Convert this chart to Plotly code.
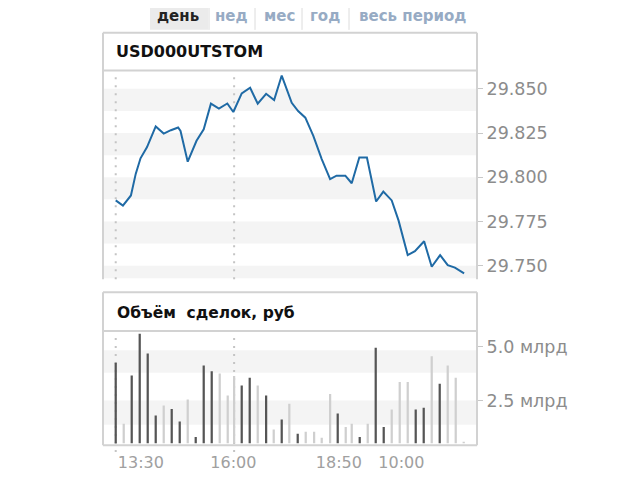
import plotly.graph_objects as go

# страница добавляет отступ 8px, поэтому фигура чуть меньше окна
OFF = 8
W, H = 624, 464

# --- данные ---
tabs = ["день", "нед", "мес", "год", "весь период"]
title_price = "USD000UTSTOM"
title_volume = "Объём  сделок, руб"

# цена: позиция (номер интервала) и значение
price_slot = [0, 0.9, 1.9, 2.5, 3.1, 3.9, 5.0, 6.0, 6.9, 7.8, 8.1, 9.0, 10.1, 11.0,
              11.9, 12.9, 13.95, 14.7, 15.75, 16.8, 17.75, 18.8, 19.8, 20.75, 22.0,
              22.8, 23.7, 24.7, 25.75, 26.8, 27.6, 28.7, 29.5, 30.45, 31.4, 32.55,
              33.45, 34.5, 35.35, 36.5, 37.4, 38.55, 39.5, 40.55, 41.5, 42.4, 43.55]
price = [29.7869, 29.7840, 29.7897, 29.8019, 29.8107, 29.8169, 29.8287, 29.8247,
         29.8266, 29.8281, 29.8262, 29.8088, 29.8206, 29.8271, 29.8416, 29.8388,
         29.8417, 29.8369, 29.8474, 29.8506, 29.8416, 29.8472, 29.8436, 29.8575,
         29.8421, 29.8374, 29.8337, 29.8234, 29.8103, 29.7990, 29.8009, 29.8009,
         29.7966, 29.8112, 29.8112, 29.7863, 29.7919, 29.7869, 29.7756, 29.7560,
         29.7582, 29.7638, 29.7494, 29.7560, 29.7503, 29.7489, 29.7457]

# объём, млрд руб
vol_slot = [0, 1, 2, 3, 4, 5, 6, 7, 8, 9, 10, 11, 12, 13, 14, 14.8, 15.75, 16.75,
            17.75, 18.8, 19.75, 20.75, 21.7, 22.75, 23.75, 24.8, 25.75, 26.8, 27.75,
            28.75, 29.5, 30.5, 31.5, 32.5, 33.5, 34.5, 35.5, 36.5, 37.5, 38.5, 39.5,
            40.5, 41.5, 42.5, 43.5]
volume = [4.26, 1.42, 3.67, 5.62, 4.69, 1.80, 2.27, 2.10, 1.52, 2.55, 0.80, 4.13,
          3.87, 3.76, 2.73, 3.64, 3.20, 3.56, 3.20, 2.73, 1.15, 1.62, 2.35, 0.95,
          1.04, 1.04, 0.76, 2.81, 1.90, 1.26, 1.42, 0.80, 1.42, 4.96, 1.26, 2.08,
          3.37, 3.37, 2.08, 2.16, 4.57, 3.28, 4.13, 3.56, 0.58]
vol_dark = [1, 0, 1, 1, 1, 1, 0, 1, 1, 0, 1, 1, 1, 0, 0, 0, 1, 1, 0, 1, 0, 1, 0, 1,
            0, 0, 0, 0, 1, 0, 0, 1, 0, 1, 1, 0, 0, 0, 1, 1, 0, 1, 0, 0, 0]

price_ticks = [29.750, 29.775, 29.800, 29.825, 29.850]
vol_ticks = [2.5, 5.0]
vol_ticktext = ["2.5 млрд", "5.0 млрд"]
time_ticks = [3.15, 14.7, 27.9, 35.7]
time_labels = ["13:30", "16:00", "18:50", "10:00"]
session_marks = [0, 14.8]


def px(x):
    return (x - OFF) / W


def py(y):
    return 1 - (y - OFF) / H


FONT = "DejaVu Sans"
BORDER = "#d2d2d2"

fig = go.Figure()

fig.add_trace(go.Scatter(
    x=price_slot, y=price, mode="lines",
    line=dict(color="#1f6aa5", width=2),
    xaxis="x", yaxis="y", hoverinfo="skip"
))

fig.add_trace(go.Bar(
    x=vol_slot, y=volume, width=0.28,
    marker=dict(color=["#555555" if d else "#cfcfcf" for d in vol_dark], line_width=0),
    xaxis="x2", yaxis="y2", hoverinfo="skip"
))

shapes = []

# полосы фона
for t in price_ticks:
    shapes.append(dict(type="rect", xref="paper", yref="y", layer="below",
                       x0=px(103), x1=px(477), y0=t - 0.0125, y1=t,
                       fillcolor="#f4f4f4", line_width=0))
for lo, hi in [(1.37, 2.5), (3.8, 4.85)]:
    shapes.append(dict(type="rect", xref="paper", yref="y2", layer="below",
                       x0=px(103), x1=px(477), y0=lo, y1=hi,
                       fillcolor="#f4f4f4", line_width=0))

# пунктирные отметки сессий
for s in session_marks:
    shapes.append(dict(type="line", xref="x", yref="paper", layer="below",
                       x0=s, x1=s, y0=py(281), y1=py(74),
                       line=dict(color="#c4c4c4", width=2, dash="2px,6px")))
    shapes.append(dict(type="line", xref="x2", yref="paper", layer="below",
                       x0=s, x1=s, y0=py(455), y1=py(337),
                       line=dict(color="#c4c4c4", width=2, dash="2px,6px")))


def line(x0, y0, x1, y1, color=BORDER, width=2):
    shapes.append(dict(type="line", xref="paper", yref="paper",
                       x0=px(x0), y0=py(y0), x1=px(x1), y1=py(y1),
                       line=dict(color=color, width=width)))


# вкладки
shapes.append(dict(type="rect", xref="paper", yref="paper", layer="below",
                   x0=px(150), x1=px(208), y0=py(30), y1=py(3),
                   fillcolor="#ebebeb", line_width=0))
for x in [209, 255, 302, 349]:
    line(x, 5, x, 30, color="#dcdcdc", width=1)

# блок цены
line(103, 33, 477, 33)
line(103, 33, 103, 281)
line(477, 33, 477, 281)
line(103, 71, 477, 71)
# блок объёма
line(103, 294, 477, 294)
line(103, 294, 103, 448)
line(477, 294, 477, 448)
line(103, 333, 477, 333)
line(103, 448, 477, 448)

annotations = []
tab_x = [178, 231, 279, 325, 412]
for i, (name, x) in enumerate(zip(tabs, tab_x)):
    annotations.append(dict(
        xref="paper", yref="paper", x=px(x), y=py(16), showarrow=False,
        text=f"<b>{name}</b>",
        font=dict(family=FONT, size=15, color="#222222" if i == 0 else "#97abc4"),
        xanchor="center", yanchor="middle"))
annotations.append(dict(
    xref="paper", yref="paper", x=px(114), y=py(52), showarrow=False,
    text=f"<b>{title_price}</b>", font=dict(family=FONT, size=16, color="#111111"),
    xanchor="left", yanchor="middle"))
annotations.append(dict(
    xref="paper", yref="paper", x=px(115), y=py(315), showarrow=False,
    text=f"<b>{title_volume}</b>", font=dict(family=FONT, size=15.5, color="#111111"),
    xanchor="left", yanchor="middle"))

xr = [-1.59, 45.16]
tickfont = dict(family=FONT, size=17.5, color="#8c8c8c")

fig.update_layout(
    width=W, height=H,
    margin=dict(l=0, r=0, t=0, b=0),
    paper_bgcolor="white", plot_bgcolor="white",
    showlegend=False,
    shapes=shapes, annotations=annotations,
    xaxis=dict(domain=[px(103), px(477)], range=xr, showgrid=False, zeroline=False,
               showticklabels=False, ticks="", anchor="y"),
    yaxis=dict(domain=[py(280), py(71)], range=[29.7429, 29.8603], side="right",
               tickvals=price_ticks, ticktext=[f"{t:.3f}" for t in price_ticks],
               ticks="outside", ticklen=5, tickcolor="#c8c8c8", tickwidth=1,
               showgrid=False, zeroline=False, tickfont=tickfont, anchor="x"),
    xaxis2=dict(domain=[px(103), px(477)], range=xr, showgrid=False, zeroline=False,
                tickvals=time_ticks, ticktext=time_labels, ticks="",
                ticklabelstandoff=8,
                tickfont=dict(family=FONT, size=16, color="#a0a0a0"), anchor="y2"),
    yaxis2=dict(domain=[py(446), py(333)], range=[0.51, 5.75], side="right",
                tickvals=vol_ticks, ticktext=vol_ticktext,
                ticks="outside", ticklen=5, tickcolor="#c8c8c8", tickwidth=1,
                showgrid=False, zeroline=False, tickfont=tickfont, anchor="x2"),
)

fig.write_html("out.html")
